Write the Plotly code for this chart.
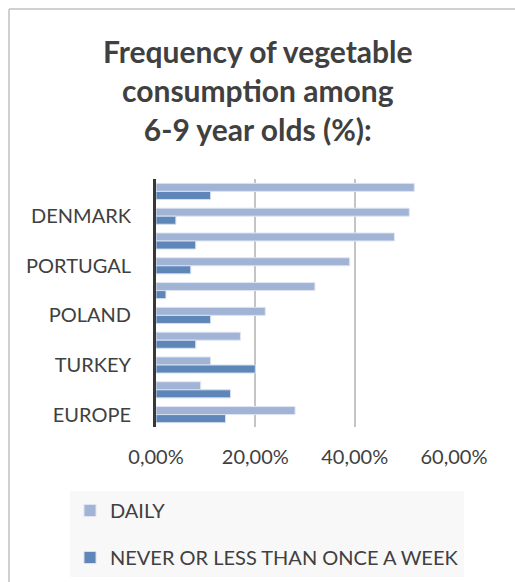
import plotly.graph_objects as go

# Data (rows top to bottom)
row_labels = ["", "DENMARK", "", "PORTUGAL", "", "POLAND", "", "TURKEY", "", "EUROPE"]
daily = [52, 51, 48, 39, 32, 22, 17, 11, 9, 28]
never = [11, 4, 8, 7, 2, 11, 8, 20, 15, 14]
x_tick_vals = [0, 20, 40, 60]
x_tick_text = ["0,00%", "20,00%", "40,00%", "60,00%"]
series_names = ["DAILY", "NEVER OR LESS THAN ONCE A WEEK"]
title_text = "<b>Frequency of vegetable<br>consumption among<br>6-9 year olds (%):</b>"

positions = list(range(len(row_labels)))
label_pos = [p for p, t in zip(positions, row_labels) if t]
label_txt = [t for t in row_labels if t]

FONT = "Lato"
TXT = "#404040"

fig = go.Figure()
fig.add_trace(go.Bar(
    y=positions, x=daily, orientation="h", name=series_names[0],
    legendgroup="a",
    marker=dict(color="#a2b4d6", line=dict(color="#dfe6f2", width=1)),
))
fig.add_trace(go.Bar(
    y=positions, x=never, orientation="h", name=series_names[1],
    legendgroup="b",
    marker=dict(color="#5f86b8", line=dict(color="#d6e0ef", width=1)),
))

W, H = 515, 582
L, R, T, B = 156, 61, 179, 155
pw, ph = W - L - R, H - T - B

def px_x(px):
    return (px - L) / pw

def px_y(py):
    return (H - B - py) / ph

fig.update_layout(
    width=W, height=H,
    margin=dict(l=L, r=R, t=T, b=B, autoexpand=False),
    paper_bgcolor="white", plot_bgcolor="white",
    barmode="group", bargap=0.35, bargroupgap=0.0,
    hovermode=False,
    font=dict(family=FONT, color=TXT, size=20),
    xaxis=dict(
        range=[0, 60], tickvals=x_tick_vals, ticktext=x_tick_text,
        showgrid=True, gridcolor="#c4c4c4", gridwidth=1.5,
        zeroline=False, showline=False, automargin=False,
        ticks="", ticklabelstandoff=16,
        tickfont=dict(family=FONT, size=20, color=TXT),
    ),
    yaxis=dict(
        range=[len(row_labels) - 0.5, -0.5],
        tickvals=label_pos, ticktext=label_txt,
        showgrid=False, zeroline=False, automargin=False,
        showline=True, linecolor="#383838", linewidth=3,
        ticks="", ticklabelstandoff=18,
        tickfont=dict(family=FONT, size=20, color=TXT),
    ),
    legend=dict(
        x=px_x(70), y=px_y(491), xanchor="left", yanchor="top",
        bgcolor="#f8f8f8", borderwidth=0,
        traceorder="grouped", tracegroupgap=18,
        itemwidth=30,
        font=dict(family=FONT, size=20, color=TXT),
    ),
    annotations=[
        dict(text=title_text, xref="paper", yref="paper",
             x=px_x(258), y=px_y(90), xanchor="center", yanchor="middle",
             showarrow=False, align="center",
             font=dict(family=FONT, size=30, color=TXT)),
    ],
    shapes=[
        dict(type="line", xref="paper", yref="paper",
             x0=px_x(9), x1=px_x(9), y0=px_y(H), y1=px_y(9),
             line=dict(color="#d0d0d0", width=2)),
        dict(type="line", xref="paper", yref="paper",
             x0=px_x(9), x1=px_x(W), y0=px_y(9), y1=px_y(9),
             line=dict(color="#d0d0d0", width=2)),
    ],
)

fig.write_html(
    "out.html", config={"displayModeBar": False},
    post_script=(
        "document.body.style.margin='0';"
        "document.body.style.overflow='hidden';"
        "document.documentElement.style.overflow='hidden';"
    ),
)
